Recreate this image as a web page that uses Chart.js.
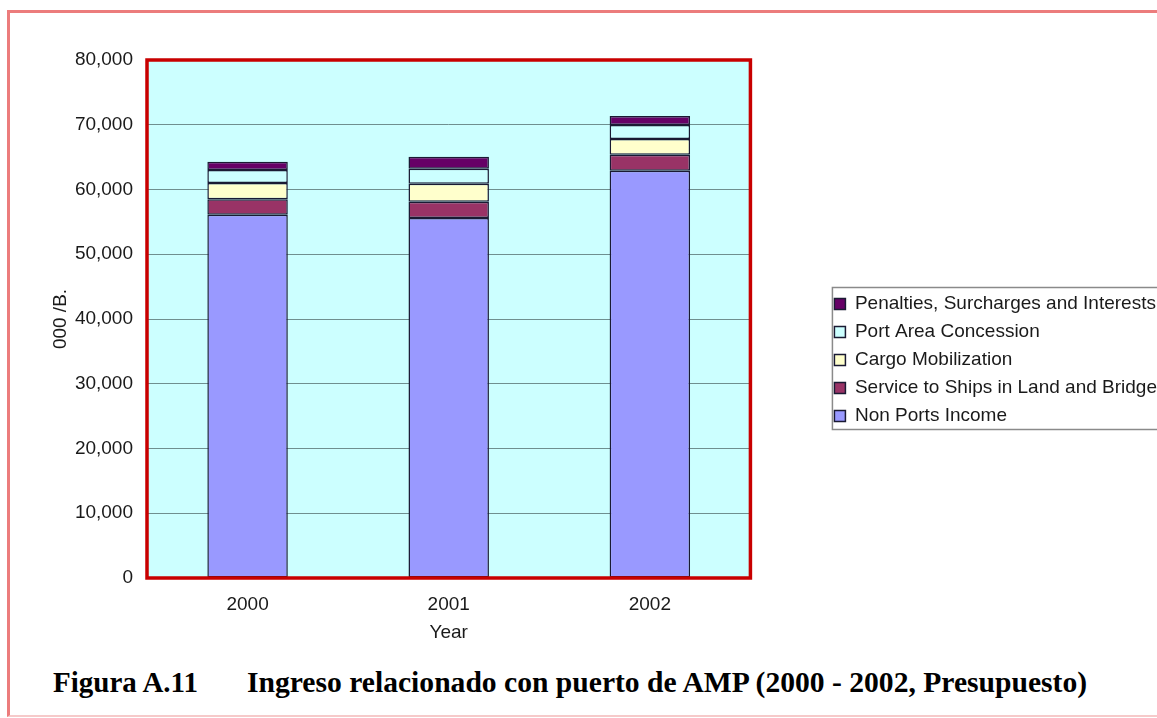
<!DOCTYPE html>
<html>
<head>
<meta charset="utf-8">
<script src="https://cdn.jsdelivr.net/npm/chart.js@4.4.1/dist/chart.umd.min.js"></script>
<style>
  body { margin: 0; width: 1157px; height: 718px; overflow: hidden; background: #fff; position: relative; }
  #frame { position: absolute; left: 7px; top: 10px; width: 1200px; height: 702px;
           border-top: 3px solid #ec7c7c; border-left: 3px solid #ec7c7c; border-bottom: 2px solid #f6caca; }
  #chart { position: absolute; left: 0; top: 0; }
  .cap { position: absolute; top: 666px; font: bold 29px "Liberation Serif", "Times New Roman", serif;
         line-height: 33px; white-space: nowrap; color: #000; }
</style>
</head>
<body>
<div id="frame"></div>
<canvas id="chart" width="1167" height="660"></canvas>
<div class="cap" style="left:53px">Figura A.11</div>
<div class="cap" style="left:247px; font-size:29.6px">Ingreso relacionado con puerto de AMP (2000 - 2002, Presupuesto)</div>
<script>
const years = ['2000', '2001', '2002'];

const nonPortsIncome = [56100, 55600, 62900];
const serviceToShips = [2400, 2500, 2450];
const cargoMobilization = [2500, 2800, 2450];
const portAreaConcession = [2000, 2300, 2150];
const penalties = [1300, 1850, 1400];

const yMin = 0;
const yMax = 80000;
const yStep = 10000;

const labelFont = { family: '"Liberation Sans", Arial, sans-serif', size: 19 };

// plot background, red frame and legend box
const plotFrame = {
  id: 'plotFrame',
  beforeDraw(chart) {
    const a = chart.chartArea;
    const ctx = chart.ctx;
    ctx.save();
    ctx.fillStyle = '#CCFFFF';
    ctx.fillRect(a.left, a.top, a.right - a.left, a.bottom - a.top);
    ctx.restore();
  },
  afterDraw(chart) {
    const a = chart.chartArea;
    const ctx = chart.ctx;
    ctx.save();
    ctx.strokeStyle = '#C80000';
    ctx.lineWidth = 3.5;
    ctx.strokeRect(a.left, a.top, a.right - a.left, a.bottom - a.top);

    const lg = chart.legend;
    const boxes = lg.legendHitBoxes;
    if (boxes && boxes.length) {
      const top = boxes[0].top - 7;
      const last = boxes[boxes.length - 1];
      const bottom = last.top + last.height + 4;
      ctx.strokeStyle = '#8a8a8a';
      ctx.lineWidth = 1.5;
      ctx.strokeRect(lg.left + 7, top, 400, bottom - top);
    }
    ctx.restore();
  }
};

function makeSet(label, data, color) {
  return {
    label: label,
    data: data,
    backgroundColor: color,
    borderColor: '#1a1a33',
    borderWidth: 1.5,
    borderSkipped: false,
    categoryPercentage: 1,
    barPercentage: 0.4
  };
}

const ctx = document.getElementById('chart').getContext('2d');
const myChart = new Chart(ctx, {
  type: 'bar',
  data: {
    labels: years,
    datasets: [
      makeSet('Non Ports Income', nonPortsIncome, '#9999FF'),
      makeSet('Service to Ships in Land and Bridge', serviceToShips, '#993366'),
      makeSet('Cargo Mobilization', cargoMobilization, '#FFFFCC'),
      makeSet('Port Area Concession', portAreaConcession, '#CCFFFF'),
      makeSet('Penalties, Surcharges and Interests', penalties, '#660066')
    ]
  },
  options: {
    responsive: false,
    animation: false,
    devicePixelRatio: 1,
    layout: { padding: { left: 40, top: 60, right: 0, bottom: 0 } },
    plugins: {
      tooltip: { enabled: false },
      legend: {
        position: 'right',
        reverse: true,
        maxWidth: 342,
        labels: {
          boxWidth: 11,
          boxHeight: 11,
          padding: 9,
          color: '#1a1a1a',
          font: labelFont
        }
      }
    },
    scales: {
      x: {
        stacked: true,
        grid: { display: false, drawTicks: false },
        border: { display: false },
        ticks: { color: '#1a1a1a', font: labelFont, padding: 15 },
        title: { display: true, text: 'Year', color: '#1a1a1a', font: labelFont, padding: { top: 0, bottom: 16 } },
        afterFit(s) { s.height = 82; }
      },
      y: {
        stacked: true,
        min: yMin,
        max: yMax,
        grid: { color: '#6f8f8f', lineWidth: 1, drawTicks: false },
        border: { display: false },
        ticks: {
          stepSize: yStep,
          color: '#1a1a1a',
          font: labelFont,
          padding: 14,
          callback: v => v.toLocaleString('en-US')
        },
        title: { display: true, text: '000 /B.', color: '#1a1a1a', font: labelFont, padding: { top: 9, bottom: 0 } },
        afterFit(s) { s.width = 107; }
      },
      gap: {
        position: 'right',
        display: true,
        grid: { display: false },
        border: { display: false },
        ticks: { display: false },
        afterFit(s) { s.width = 75; }
      }
    }
  },
  plugins: [plotFrame]
});
</script>
</body>
</html>
